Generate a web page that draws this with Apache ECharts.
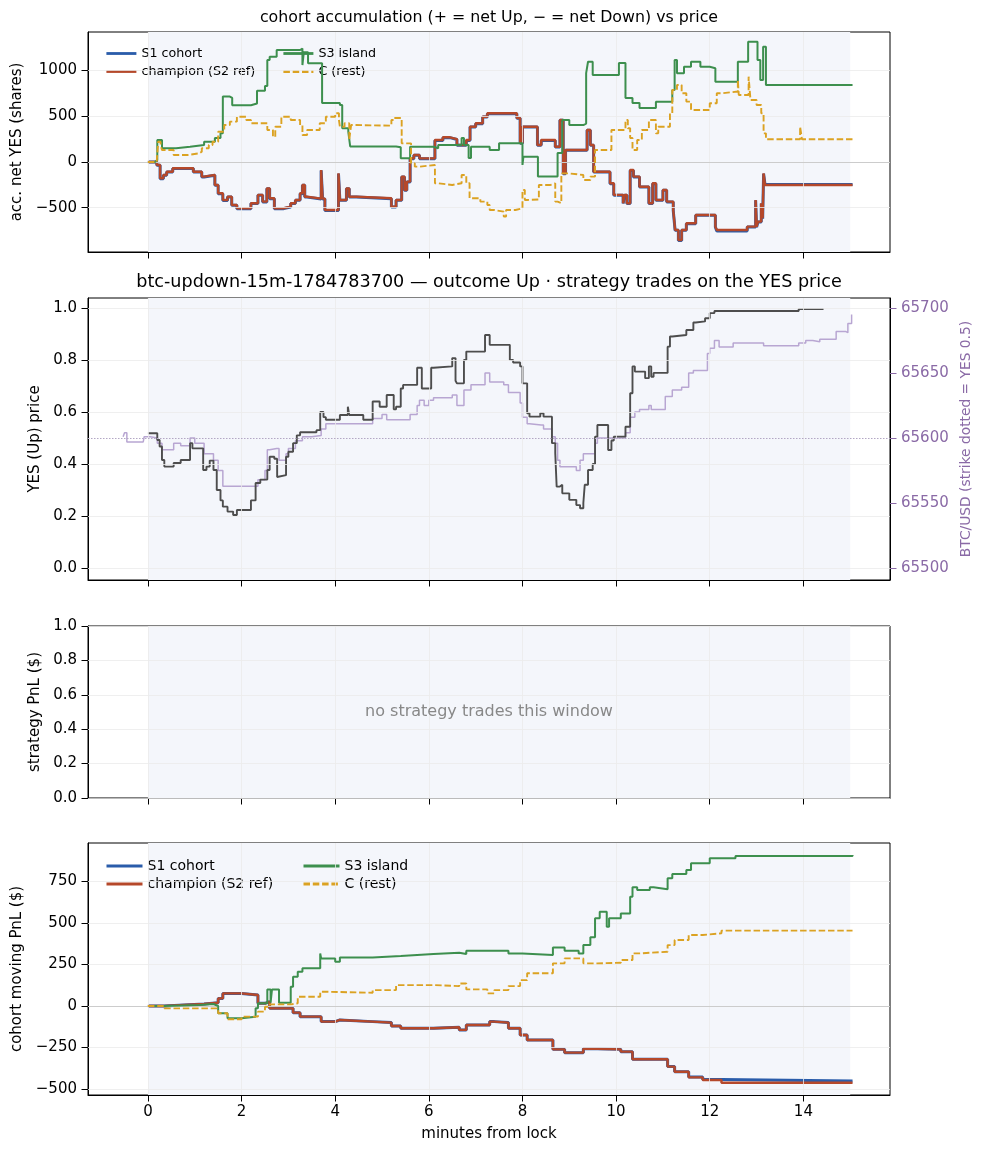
<!DOCTYPE html>
<html>
<head>
<meta charset="utf-8">
<title>cohort accumulation</title>
<script src="https://cdn.jsdelivr.net/npm/echarts@6/dist/echarts.min.js"></script>
<style>
  html, body { margin: 0; padding: 0; background: #fff; }
  #chart { width: 983px; height: 1156px; }
</style>
</head>
<body>
<div id="chart"></div>
<script>
// ---- data (minutes from lock) ----

// top: accumulated net YES shares
const accS3T = [0, 0.15, 0.2, 0.3, 0.35, 0.6, 0.9, 1.2, 1.43, 1.55, 1.6, 1.75, 1.8, 2.2, 2.33, 2.5, 2.55, 2.6, 2.75, 3.25, 3.3, 3.33, 3.42, 3.72, 4.1, 4.15, 4.28, 4.32, 5.3, 5.4, 5.6, 6.1, 6.2, 6.7, 6.75, 6.85, 6.9, 7.3, 7.5, 8.0, 8.02, 8.33, 8.75, 8.85, 9.0, 9.3, 9.36, 9.4, 9.5, 10.06, 10.2, 10.35, 10.5, 10.85, 11.2, 11.25, 11.3, 11.45, 11.6, 11.8, 12.0, 12.12, 12.6, 12.82, 13.02, 13.08, 13.14, 13.2, 15.05];
const accS3V = [0, 20, 240, 150, 150, 167, 186, 222, 262, 313, 715, 700, 620, 640, 780, 830, 1115, 1150, 1224, 1240, 1060, 1200, 1080, 645, 623, 370, 330, 170, 160, 40, 167, 150, 186, 262, 186, 44, 167, 131, 204, -33, 58, -160, 98, 459, 404, 420, 972, 1096, 951, 1082, 700, 645, 590, 659, 787, 1115, 970, 1040, 1096, 1042, 1025, 878, 1096, 1315, 1115, 896, 1260, 842, 842];

const accChampT = [0, 0.19, 0.26, 0.33, 0.4, 0.53, 0.97, 1.15, 1.2, 1.43, 1.5, 1.6, 1.7, 1.79, 1.9, 2.2, 2.35, 2.45, 2.54, 2.6, 2.7, 2.9, 3.05, 3.15, 3.25, 3.3, 3.35, 3.4, 3.7, 3.73, 3.78, 4.07, 4.1, 4.24, 4.3, 4.45, 5.2, 5.3, 5.42, 5.48, 5.53, 5.6, 5.68, 5.8, 6.13, 6.3, 6.45, 6.6, 6.8, 6.88, 7.0, 7.15, 7.25, 7.88, 7.95, 8.0, 8.32, 8.4, 8.7, 8.8, 8.87, 8.92, 9.38, 9.45, 9.52, 9.87, 9.95, 10.15, 10.18, 10.23, 10.3, 10.37, 10.5, 10.7, 10.78, 10.85, 11.0, 11.08, 11.22, 11.26, 11.33, 11.4, 11.5, 11.7, 12.12, 12.15, 12.8, 12.98, 13.0, 13.03, 13.1, 13.13, 13.15, 13.18, 15.05];
const accChampV = [0, -33, -178, -142, -106, -69, -106, -160, -142, -251, -342, -415, -380, -470, -506, -451, -360, -433, -288, -397, -506, -488, -451, -415, -342, -251, -380, -400, -88, -400, -525, -124, -415, -288, -380, -397, -488, -415, -160, -306, -215, 40, 77, 40, 240, 270, 250, 186, 240, 386, 423, 495, 532, 481, 208, 386, 186, 240, 167, 459, -124, 131, 350, 186, -106, -233, -360, -451, -360, -451, -88, -160, -270, -451, -233, -415, -306, -433, -525, -743, -853, -743, -670, -579, -707, -743, -707, -415, -707, -652, -451, -615, -124, -251, -251];
const accS1V = [0, -36, -182, -146, -110, -72, -110, -164, -146, -255, -346, -420, -384, -474, -510, -455, -364, -437, -292, -401, -510, -492, -455, -419, -346, -255, -384, -404, -92, -404, -529, -128, -419, -292, -384, -401, -492, -419, -164, -310, -219, 36, 73, 36, 236, 266, 246, 182, 236, 382, 419, 491, 528, 477, 204, 382, 182, 236, 163, 455, -128, 127, 346, 182, -110, -237, -364, -455, -364, -455, -92, -164, -274, -455, -237, -419, -310, -437, -529, -747, -857, -747, -674, -583, -712, -755, -712, -419, -712, -656, -455, -619, -128, -245, -245];

const accCT = [0, 0.19, 0.22, 0.27, 0.3, 0.55, 0.85, 1.1, 1.15, 1.3, 1.38, 1.5, 1.63, 1.75, 1.9, 2.1, 2.2, 2.55, 2.67, 2.72, 2.85, 3.05, 3.25, 3.3, 3.4, 3.67, 3.8, 4.0, 4.08, 4.1, 4.2, 4.3, 4.34, 4.4, 5.2, 5.25, 5.42, 5.62, 5.7, 5.8, 6.13, 6.2, 6.5, 6.7, 6.8, 6.87, 7.1, 7.25, 7.3, 7.4, 7.6, 7.65, 7.85, 8.0, 8.05, 8.1, 8.35, 8.6, 8.7, 8.75, 8.83, 8.98, 9.3, 9.45, 9.55, 9.9, 10.2, 10.25, 10.3, 10.35, 10.45, 10.55, 10.7, 10.85, 10.9, 11.15, 11.2, 11.3, 11.4, 11.5, 11.6, 12.0, 12.15, 12.25, 12.6, 12.62, 12.83, 12.87, 13.0, 13.1, 13.15, 13.2, 13.93, 13.97, 15.05];
const accCV = [0, 22, 222, 186, 131, 77, 95, 113, 150, 186, 222, 331, 404, 441, 495, 459, 423, 350, 277, 386, 495, 459, 404, 295, 350, 423, 495, 532, 459, 386, 423, 240, 404, 397, 459, 481, 204, -15, -51, -33, -233, -251, -233, -142, -233, -397, -433, -470, -525, -543, -597, -525, -506, -306, -415, -410, -251, -233, -433, -451, -124, -142, -197, -160, 131, 350, 459, 368, 262, 131, 240, 350, 459, 313, 386, 532, 787, 842, 751, 660, 568, 642, 751, 770, 896, 732, 933, 678, 623, 532, 313, 248, 386, 248, 248];

// middle: YES price and BTC spot
const yesT = [0, 0.15, 0.2, 0.25, 0.3, 0.35, 0.55, 0.7, 0.9, 0.95, 1.18, 1.25, 1.32, 1.4, 1.47, 1.55, 1.6, 1.7, 1.82, 1.9, 2.2, 2.3, 2.4, 2.55, 2.6, 2.7, 2.76, 2.8, 2.95, 3.0, 3.1, 3.18, 3.25, 3.6, 3.68, 3.75, 3.8, 4.1, 4.27, 4.3, 4.6, 4.8, 4.95, 5.1, 5.25, 5.3, 5.4, 5.45, 5.75, 5.85, 6.05, 6.1, 6.5, 6.57, 6.6, 6.75, 6.8, 7.2, 7.3, 7.73, 7.8, 7.95, 8.0, 8.1, 8.15, 8.38, 8.45, 8.63, 8.7, 8.73, 8.8, 8.85, 9.0, 9.15, 9.23, 9.3, 9.33, 9.4, 9.5, 9.55, 9.6, 9.83, 9.9, 9.95, 10.2, 10.3, 10.35, 10.4, 10.62, 10.7, 10.75, 10.8, 11.1, 11.15, 11.2, 11.5, 11.65, 11.7, 11.9, 12.0, 12.1, 13.9, 14.43];
const yesV = [0.518, 0.518, 0.492, 0.467, 0.415, 0.39, 0.404, 0.415, 0.48, 0.46, 0.377, 0.39, 0.413, 0.377, 0.3, 0.26, 0.236, 0.217, 0.204, 0.223, 0.26, 0.327, 0.34, 0.377, 0.428, 0.42, 0.35, 0.357, 0.428, 0.447, 0.48, 0.51, 0.522, 0.53, 0.6, 0.58, 0.57, 0.588, 0.62, 0.588, 0.57, 0.64, 0.62, 0.665, 0.61, 0.62, 0.69, 0.704, 0.77, 0.69, 0.77, 0.775, 0.807, 0.72, 0.71, 0.8, 0.832, 0.896, 0.858, 0.8, 0.79, 0.775, 0.71, 0.595, 0.582, 0.595, 0.582, 0.48, 0.441, 0.313, 0.32, 0.287, 0.262, 0.242, 0.23, 0.25, 0.32, 0.377, 0.4, 0.505, 0.55, 0.454, 0.49, 0.505, 0.543, 0.672, 0.775, 0.755, 0.73, 0.775, 0.735, 0.75, 0.851, 0.89, 0.896, 0.915, 0.944, 0.948, 0.96, 0.98, 0.988, 0.996, 0.996];

const btcT = [-0.53, -0.5, -0.45, -0.1, -0.08, 0.05, 0.2, 0.3, 0.55, 0.7, 0.9, 1.0, 1.2, 1.4, 1.5, 1.6, 2.25, 2.35, 2.5, 2.55, 2.6, 2.75, 2.8, 2.9, 2.95, 3.0, 3.15, 3.3, 3.5, 3.7, 3.8, 4.75, 4.8, 5.0, 5.1, 5.5, 5.6, 5.75, 5.8, 5.9, 6.0, 6.1, 6.4, 6.5, 6.6, 6.7, 6.75, 6.9, 7.2, 7.3, 7.6, 7.7, 7.85, 7.95, 8.0, 8.1, 8.15, 8.4, 8.45, 8.55, 8.63, 8.7, 8.75, 8.8, 9.1, 9.15, 9.23, 9.3, 9.5, 9.55, 9.6, 10.15, 10.2, 10.3, 10.4, 10.5, 10.6, 10.7, 10.75, 11.0, 11.05, 11.2, 11.4, 11.5, 11.55, 11.65, 11.9, 11.95, 12.0, 12.1, 12.2, 12.4, 12.5, 13.1, 13.15, 13.8, 13.9, 14.05, 14.2, 14.35, 14.6, 14.7, 14.9, 14.95, 15.03];
const btcV = [65601, 65604, 65597, 65597, 65601, 65600, 65596, 65591, 65596, 65594, 65600, 65596, 65588, 65583, 65575, 65563, 65563, 65568, 65575, 65591, 65592, 65592, 65583, 65583, 65588, 65592, 65598, 65601, 65602, 65607, 65611, 65611, 65615, 65618, 65614, 65614, 65618, 65625, 65629, 65625, 65629, 65631, 65631, 65633, 65625, 65625, 65637, 65641, 65650, 65643, 65641, 65635, 65635, 65627, 65616, 65611, 65610, 65610, 65607, 65607, 65601, 65596, 65583, 65578, 65578, 65575, 65583, 65588, 65588, 65596, 65600, 65600, 65604, 65616, 65620, 65622, 65622, 65625, 65622, 65622, 65632, 65637, 65639, 65639, 65650, 65652, 65652, 65665, 65669, 65675, 65670, 65670, 65673, 65673, 65671, 65671, 65673, 65675, 65674, 65676, 65676, 65682, 65681, 65688, 65695];
const strikeYes = 0.5;

// bottom: cohort moving PnL ($)
const pnlS3T = [0, 0.35, 1.1, 1.4, 1.5, 1.7, 2.0, 2.3, 2.35, 2.55, 2.62, 2.65, 2.75, 2.8, 3.05, 3.1, 3.2, 3.3, 3.68, 3.7, 4.0, 4.1, 4.8, 5.4, 6.1, 6.65, 6.8, 7.7, 8.0, 8.65, 8.9, 9.2, 9.3, 9.45, 9.55, 9.65, 9.8, 9.85, 10.1, 10.3, 10.35, 10.45, 10.72, 10.8, 11.1, 11.2, 11.5, 11.6, 12.0, 12.55, 15.0, 15.05];
const pnlS3V = [0, 6, 12, 0, -44, -74, -64, -14, 16, 100, 20, 100, 100, 20, 116, 176, 207, 227, 317, 287, 267, 293, 301, 313, 321, 313, 333, 317, 307, 353, 333, 317, 367, 414, 528, 568, 478, 528, 558, 658, 715, 699, 715, 703, 769, 795, 819, 860, 890, 904, 904, 910];

const pnlCT = [0, 0.35, 1.5, 1.7, 2.0, 2.35, 2.5, 2.6, 3.05, 3.2, 3.68, 3.8, 4.8, 5.3, 6.1, 6.65, 6.8, 7.25, 7.4, 7.7, 7.95, 8.1, 8.65, 8.9, 9.3, 9.6, 10.1, 10.35, 10.5, 11.1, 11.25, 11.55, 11.85, 12.25, 15.05];
const pnlCV = [0, -14, -44, -80, -64, -34, -4, 10, 16, 56, 86, 80, 96, 126, 120, 136, 100, 76, 96, 120, 156, 197, 257, 287, 257, 261, 277, 317, 327, 367, 398, 428, 438, 454, 454];

const pnlChampT = [0, 0.35, 1.2, 1.5, 1.6, 2.0, 2.35, 2.5, 2.6, 3.1, 3.25, 3.7, 4.0, 4.1, 4.8, 5.2, 5.4, 6.1, 6.65, 6.8, 7.3, 7.4, 7.7, 7.95, 8.1, 8.65, 8.9, 9.3, 9.6, 10.1, 10.35, 11.1, 11.25, 11.55, 11.85, 12.25, 15.05];
const pnlChampV = [0, 12, 20, 46, 76, 66, 16, 26, -14, -40, -64, -94, -84, -94, -100, -120, -134, -128, -144, -114, -94, -100, -134, -175, -205, -261, -281, -257, -261, -275, -321, -365, -396, -430, -446, -462, -462];
const pnlS1V = [0, 12, 20, 46, 76, 66, 16, 26, -14, -40, -64, -94, -84, -94, -100, -120, -134, -128, -144, -114, -94, -100, -134, -175, -205, -261, -281, -257, -261, -275, -321, -365, -396, -428, -443, -452, -450];

// ticks
const minuteTicks = [0, 2, 4, 6, 8, 10, 12, 14];
const accTicks = [-500, 0, 500, 1000];
const yesTicks = [0, 0.2, 0.4, 0.6, 0.8, 1.0];
const btcTicks = [65500, 65550, 65600, 65650, 65700];
const pnlTicks = [-500, -250, 0, 250, 500, 750];

// ---- chart ----
const FONT = 'DejaVu Sans';
const TICK_FS = 15;
const NAME_FS = 15;
const zip = (ts, vs) => ts.map((t, i) => [t, vs[i]]);
const X_MIN = -1.28, X_MAX = 15.85;

const COL = {
  s1: '#2a5caa',
  champ: '#b5482a',
  s3: '#3d8f4e',
  c: '#dba222',
  yes: '#4d4d4d',
  btc: '#b8a6d2',
  btcText: '#8a6aa6',
  grid: '#ebebeb',
  shade: '#f4f6fb'
};

const grids = [
  { left: 88, right: 93, top: 32, height: 220 },
  { left: 88, right: 93, top: 298, height: 282 },
  { left: 88, right: 93, top: 626, height: 172 },
  { left: 88, right: 93, top: 843, height: 252 }
].map(g => Object.assign(g, { show: true, borderColor: '#000', borderWidth: 1, backgroundColor: '#fff' }));

function xAxisFor(i) {
  let last = i === 3;
  return {
    type: 'value', gridIndex: i, min: X_MIN, max: X_MAX,
    axisLine: { show: true, onZero: false, lineStyle: { color: '#000', width: 1 } },
    axisTick: { show: true, length: 6.5, customValues: minuteTicks, lineStyle: { color: '#000' } },
    axisLabel: { show: last, customValues: minuteTicks, color: '#000', fontSize: TICK_FS, fontFamily: FONT, margin: 10 },
    splitLine: { show: false },
    name: last ? 'minutes from lock' : '',
    nameLocation: 'middle', nameGap: 32,
    nameTextStyle: { color: '#000', fontSize: NAME_FS, fontFamily: FONT }
  };
}

function yAxisFor(grid, min, max, ticks, name, gap, opts) {
  opts = opts || {};
  let color = opts.color || '#000';
  return {
    type: 'value', gridIndex: grid, min: min, max: max,
    position: opts.position || 'left',
    axisLine: { show: true, onZero: false, lineStyle: { color: '#000', width: 1 } },
    axisTick: { show: true, length: 6.5, customValues: ticks, lineStyle: { color: color } },
    axisLabel: {
      customValues: ticks, color: color, fontSize: TICK_FS, fontFamily: FONT, margin: 11,
      formatter: opts.formatter || (v => (v < 0 ? '\u2212' + Math.abs(v) : String(v)))
    },
    splitLine: { show: false },
    name: name, nameLocation: 'middle', nameGap: gap,
    nameTextStyle: { color: color, fontSize: opts.nameSize || NAME_FS, fontFamily: FONT }
  };
}

// background shading + grid lines, drawn behind the data
function backdrop(grid, yIdx, yTicks, extraLines) {
  let lines = minuteTicks.map(t => ({ xAxis: t }))
    .concat(yTicks.map(v => ({ yAxis: v })));
  let data = lines.map(d => Object.assign(d, { lineStyle: { color: COL.grid, width: 0.8, type: 'solid' } }));
  if (extraLines) data = data.concat(extraLines);
  return {
    type: 'line', name: 'bg' + grid, xAxisIndex: grid, yAxisIndex: yIdx,
    data: [], silent: true, z: 1, legendHoverLink: false,
    markArea: { silent: true, itemStyle: { color: COL.shade }, data: [[{ xAxis: 0 }, { xAxis: 15 }]] },
    markLine: { silent: true, symbol: 'none', animation: false, label: { show: false }, data: data }
  };
}

function stepLine(name, grid, yIdx, data, color, width, dash, z) {
  return {
    type: 'line', name: name, xAxisIndex: grid, yAxisIndex: yIdx,
    data: data, step: 'end', symbol: 'none', showSymbol: false, z: z || 3,
    lineStyle: { color: color, width: width, type: dash || 'solid' },
    itemStyle: { color: color },
    animation: false
  };
}

const zeroLine = { yAxis: 0, lineStyle: { color: '#cccccc', width: 1.2, type: 'solid' } };

function legendAt(left, top, names, fs, w, gap, lw) {
  return {
    orient: 'vertical', left: left, top: top, selectedMode: false,
    itemWidth: w, itemHeight: 10, itemGap: gap,
    // hide the round marker that line series put in the middle of the icon
    itemStyle: { opacity: 0, color: 'rgba(0,0,0,0)', borderWidth: 0 },
    lineStyle: { width: lw },
    textStyle: { color: '#000', fontFamily: FONT, fontSize: fs },
    data: names
  };
}

let chart = echarts.init(document.getElementById('chart'), null, { renderer: 'canvas' });
let option = {
  animation: false,
  backgroundColor: '#fff',
  grid: grids,
  xAxis: [0, 1, 2, 3].map(xAxisFor),
  yAxis: [
    yAxisFor(0, -984, 1421, accTicks, 'acc. net YES (shares)', 61),
    yAxisFor(1, -0.046, 1.038, yesTicks, 'YES (Up) price', 44, { formatter: v => v.toFixed(1) }),
    yAxisFor(2, 0, 1, yesTicks, 'strategy PnL ($)', 44, { formatter: v => v.toFixed(1) }),
    yAxisFor(3, -536, 982, pnlTicks, 'cohort moving PnL ($)', 61),
    yAxisFor(1, 65490.8, 65707.7, btcTicks, 'BTC/USD (strike dotted = YES 0.5)', 67,
      { position: 'right', color: COL.btcText, nameSize: 13.8, formatter: v => String(v) })
  ],
  legend: [
    legendAt(100, 42, ['S1 cohort', 'champion (S2 ref)'], 12.7, 30, 5, 2.8),
    legendAt(277, 42, ['S3 island', 'C (rest)'], 12.7, 30, 5, 2.8),
    legendAt(100, 854, ['S1 cohort', 'champion (S2 ref)'], 14, 36, 4, 3),
    legendAt(297, 854, ['S3 island', 'C (rest)'], 14, 36, 4, 3)
  ],
  graphic: [
    {
      type: 'text', x: 489, y: 18, silent: true,
      style: { text: 'cohort accumulation (+ = net Up, \u2212 = net Down) vs price', align: 'center', verticalAlign: 'middle',
        fill: '#000', fontSize: 15.8, fontFamily: FONT }
    },
    {
      type: 'text', x: 489, y: 282, silent: true,
      style: { text: 'btc-updown-15m-1784783700 \u2014 outcome Up \u00b7 strategy trades on the YES price', align: 'center', verticalAlign: 'middle',
        fill: '#000', fontSize: 17.6, fontFamily: FONT }
    },
    {
      type: 'text', x: 489, y: 712, silent: true, z: 10,
      style: { text: 'no strategy trades this window', align: 'center', verticalAlign: 'middle',
        fill: '#888888', fontSize: 16, fontFamily: FONT }
    }
  ],
  series: [
    // top panel
    backdrop(0, 0, accTicks, [zeroLine]),
    stepLine('S1 cohort', 0, 0, zip(accChampT, accS1V), COL.s1, 3, 'solid', 3),
    stepLine('champion (S2 ref)', 0, 0, zip(accChampT, accChampV), COL.champ, 2.4, 'solid', 4),
    stepLine('S3 island', 0, 0, zip(accS3T, accS3V), COL.s3, 2, 'solid', 5),
    stepLine('C (rest)', 0, 0, zip(accCT, accCV), COL.c, 1.9, [6.5, 2.8], 6),

    // price panel
    backdrop(1, 1, yesTicks, [{ yAxis: strikeYes, lineStyle: { color: '#b3a7c4', width: 1, type: [1.5, 1.5] } }]),
    stepLine('BTC/USD', 1, 4, zip(btcT, btcV), COL.btc, 1.5, 'solid', 3),
    stepLine('YES price', 1, 1, zip(yesT, yesV), COL.yes, 1.9, 'solid', 4),

    // strategy PnL panel (empty)
    backdrop(2, 2, yesTicks),

    // cohort PnL panel
    backdrop(3, 3, pnlTicks, [zeroLine]),
    stepLine('S1 cohort', 3, 3, zip(pnlChampT, pnlS1V), COL.s1, 3, 'solid', 3),
    stepLine('champion (S2 ref)', 3, 3, zip(pnlChampT, pnlChampV), COL.champ, 2.4, 'solid', 4),
    stepLine('S3 island', 3, 3, zip(pnlS3T, pnlS3V), COL.s3, 2, 'solid', 5),
    stepLine('C (rest)', 3, 3, zip(pnlCT, pnlCV), COL.c, 1.9, [6.5, 2.8], 6)
  ]
};
chart.setOption(option);
</script>
</body>
</html>
